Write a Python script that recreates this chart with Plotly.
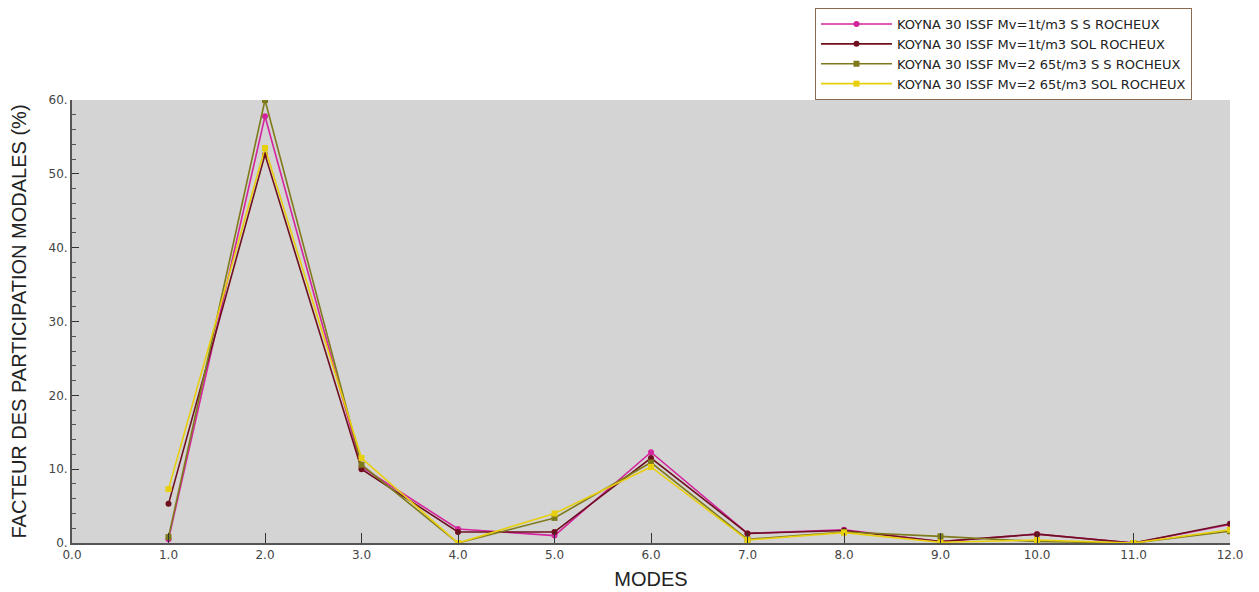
import plotly.graph_objects as go

modes = [1, 2, 3, 4, 5, 6, 7, 8, 9, 10, 11, 12]
names = [
    "KOYNA 30 ISSF Mv=1t/m3 S S ROCHEUX",
    "KOYNA 30 ISSF Mv=1t/m3 SOL ROCHEUX",
    "KOYNA 30 ISSF Mv=2 65t/m3 S S ROCHEUX",
    "KOYNA 30 ISSF Mv=2 65t/m3 SOL ROCHEUX",
]
s1 = [0.5, 57.8, 10.3, 1.9, 1.0, 12.3, 1.3, 1.8, 0.2, 1.2, 0.0, 2.5]
s2 = [5.3, 52.6, 10.0, 1.5, 1.5, 11.5, 1.3, 1.7, 0.2, 1.2, 0.0, 2.6]
s3 = [0.8, 60.0, 10.6, 0.0, 3.4, 10.9, 0.5, 1.5, 0.9, 0.2, 0.0, 1.6]
s4 = [7.3, 53.5, 11.5, 0.0, 4.0, 10.3, 0.4, 1.4, 0.1, 0.4, 0.0, 1.8]
series = [s1, s2, s3, s4]
colors = ["#d4249e", "#6e1020", "#7f7a1c", "#e8cf0c"]
symbols = ["circle", "circle", "square", "square"]

xticks = [0, 1, 2, 3, 4, 5, 6, 7, 8, 9, 10, 11, 12]
xticklabels = ["0.0", "1.0", "2.0", "3.0", "4.0", "5.0", "6.0", "7.0", "8.0", "9.0", "10.0", "11.0", "12.0"]
yticks = [0, 10, 20, 30, 40, 50, 60]
yticklabels = ["0.", "10.", "20.", "30.", "40.", "50.", "60."]

fig = go.Figure()
for n, s, c, sym in zip(names, series, colors, symbols):
    fig.add_trace(go.Scatter(
        x=modes, y=s, name=n, mode="lines+markers",
        line=dict(color=c, width=1.6),
        marker=dict(color=c, symbol=sym, size=6),
    ))

axcol = "#555555"
fig.update_layout(
    width=1259, height=592,
    margin=dict(l=64, r=37, t=92, b=57, autoexpand=False),
    plot_bgcolor="#d4d4d4", paper_bgcolor="white",
    font=dict(family="DejaVu Sans", size=12, color="#333333"),
    showlegend=True,
    legend=dict(
        x=0.6416, xanchor="left", y=1.2077, yanchor="top",
        bgcolor="white", bordercolor="#8a6a50", borderwidth=1,
        font=dict(family="DejaVu Sans", size=13, color="#222222"),
        tracegroupgap=0, itemwidth=71,
    ),
    xaxis=dict(
        range=[0, 12], tickvals=xticks, ticktext=xticklabels,
        showgrid=False, zeroline=False, showline=True, linecolor=axcol, linewidth=2,
        ticks="inside", ticklen=10, tickcolor="#333333",
        tickfont=dict(family="DejaVu Sans", size=12, color="#444444"),
        title=dict(text="MODES", font=dict(family="Liberation Sans", size=20, color="#222222"), standoff=11),
    ),
    yaxis=dict(
        range=[0, 60], tickvals=yticks, ticktext=yticklabels,
        showgrid=False, zeroline=False, showline=True, linecolor=axcol, linewidth=2,
        ticks="inside", ticklen=7, tickcolor="#333333",
        minor=dict(dtick=2, ticks="inside", ticklen=4, tickcolor="#555555", showgrid=False),
        tickfont=dict(family="DejaVu Sans", size=12, color="#444444"),
        title=dict(text="FACTEUR DES PARTICIPATION MODALES (%)", font=dict(family="Liberation Sans", size=20, color="#222222"), standoff=18),
    ),
)
fig.write_html("out.html")
